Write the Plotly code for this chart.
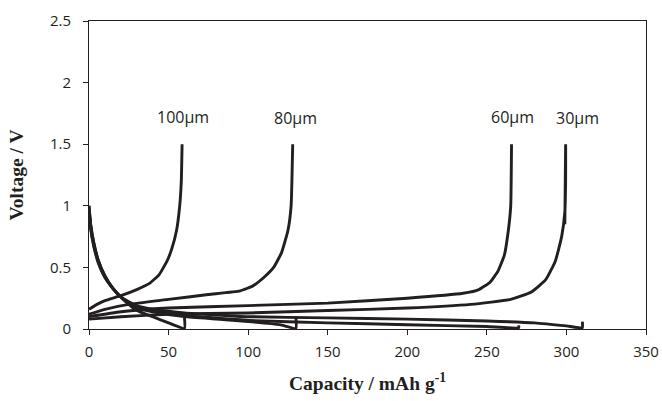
import plotly.graph_objects as go

# Charge curves (capacity mAh/g, voltage V)
charge_100_cap = [0, 5, 10, 20, 30, 38, 44, 49, 52, 55, 57, 58, 58.5]
charge_100_v = [0.16, 0.2, 0.23, 0.27, 0.32, 0.37, 0.44, 0.55, 0.65, 0.8, 1.0, 1.2, 1.5]
charge_80_cap = [0, 10, 25, 50, 75, 95, 103, 110, 116, 121, 125, 127, 128]
charge_80_v = [0.12, 0.16, 0.2, 0.24, 0.28, 0.31, 0.35, 0.42, 0.5, 0.62, 0.8, 1.0, 1.5]
charge_60_cap = [0, 20, 50, 100, 150, 200, 235, 245, 252, 257, 261, 263.5, 265, 265.5]
charge_60_v = [0.1, 0.14, 0.17, 0.19, 0.21, 0.25, 0.29, 0.32, 0.38, 0.47, 0.6, 0.8, 1.0, 1.5]
charge_30_cap = [0, 20, 50, 100, 150, 200, 240, 265, 278, 287, 293, 297, 299, 299.5, 299.5, 299]
charge_30_v = [0.08, 0.1, 0.12, 0.13, 0.15, 0.17, 0.2, 0.24, 0.3, 0.4, 0.55, 0.75, 0.95, 1.2, 1.5, 0.85]

# Discharge curves
dis_100_cap = [0, 1, 3, 6, 10, 15, 20, 25, 30, 40, 50, 60, 60]
dis_100_v = [1.0, 0.85, 0.7, 0.55, 0.43, 0.33, 0.26, 0.2, 0.15, 0.1, 0.05, 0.005, 0.09]
dis_80_cap = [0, 1, 3, 6, 10, 15, 20, 25, 30, 40, 60, 80, 100, 120, 130, 130]
dis_80_v = [1.0, 0.85, 0.7, 0.55, 0.43, 0.33, 0.26, 0.21, 0.17, 0.14, 0.1, 0.08, 0.06, 0.035, 0.005, 0.1]
dis_60_cap = [0, 1, 3, 6, 10, 15, 20, 25, 30, 40, 60, 100, 150, 200, 250, 270, 270]
dis_60_v = [0.97, 0.83, 0.68, 0.54, 0.42, 0.33, 0.26, 0.21, 0.18, 0.15, 0.11, 0.07, 0.05, 0.035, 0.02, 0.01, 0.03]
dis_30_cap = [0, 1, 3, 6, 10, 15, 20, 25, 30, 40, 60, 100, 150, 200, 250, 280, 300, 310, 310]
dis_30_v = [0.95, 0.82, 0.67, 0.53, 0.42, 0.33, 0.26, 0.22, 0.19, 0.16, 0.13, 0.1, 0.09, 0.08, 0.065, 0.05, 0.025, 0.01, 0.06]

labels = ["100μm", "80μm", "60μm", "30μm"]
label_cap = [59, 130, 266, 307]
label_v = [1.72, 1.71, 1.72, 1.71]

x_ticks = [0, 50, 100, 150, 200, 250, 300, 350]
y_ticks = [0, 0.5, 1, 1.5, 2, 2.5]
y_tick_text = ["0", "0.5", "1", "1.5", "2", "2.5"]

line_color = "#231f20"
sans = "Open Sans, Liberation Sans, sans-serif"
serif = "Liberation Serif, Times New Roman, serif"

fig = go.Figure()
series = [
    (charge_100_cap, charge_100_v), (charge_80_cap, charge_80_v),
    (charge_60_cap, charge_60_v), (charge_30_cap, charge_30_v),
    (dis_100_cap, dis_100_v), (dis_80_cap, dis_80_v),
    (dis_60_cap, dis_60_v), (dis_30_cap, dis_30_v),
]
for xs, ys in series:
    fig.add_trace(go.Scatter(x=xs, y=ys, mode="lines",
                             line=dict(color=line_color, width=2.9, shape="spline", smoothing=0.4),
                             showlegend=False, hoverinfo="skip"))

for t, xc, yv in zip(labels, label_cap, label_v):
    fig.add_annotation(x=xc, y=yv, text=t, showarrow=False,
                       font=dict(family=sans, size=16, color=line_color))

axis_common = dict(showline=True, linecolor=line_color, linewidth=1, mirror=True,
                   ticks="outside", ticklen=5, tickcolor=line_color, showgrid=False, zeroline=False,
                   tickfont=dict(family=sans, size=15, color=line_color))

fig.update_xaxes(range=[0, 350], tickvals=x_ticks, ticklabelstandoff=4, **axis_common,
                 title=dict(text="<b>Capacity / mAh g<sup>-1</sup></b>",
                            font=dict(family=serif, size=19.5, color=line_color),
                            standoff=16))
fig.update_yaxes(range=[0, 2.5], tickvals=y_ticks, ticktext=y_tick_text, ticklabelstandoff=9,
                 **axis_common,
                 title=dict(text="<b>Voltage / V</b>",
                            font=dict(family=serif, size=19.5, color=line_color),
                            standoff=21))

fig.update_layout(width=662, height=401, plot_bgcolor="white", paper_bgcolor="white",
                  margin=dict(l=89, r=16, t=21, b=72, autoexpand=False))

# remove the default 8px page margin so the figure fills the window exactly
fig.write_html("out.html", config={"displayModeBar": False},
               post_script="document.body.style.margin='0';document.body.style.overflow='hidden';")
